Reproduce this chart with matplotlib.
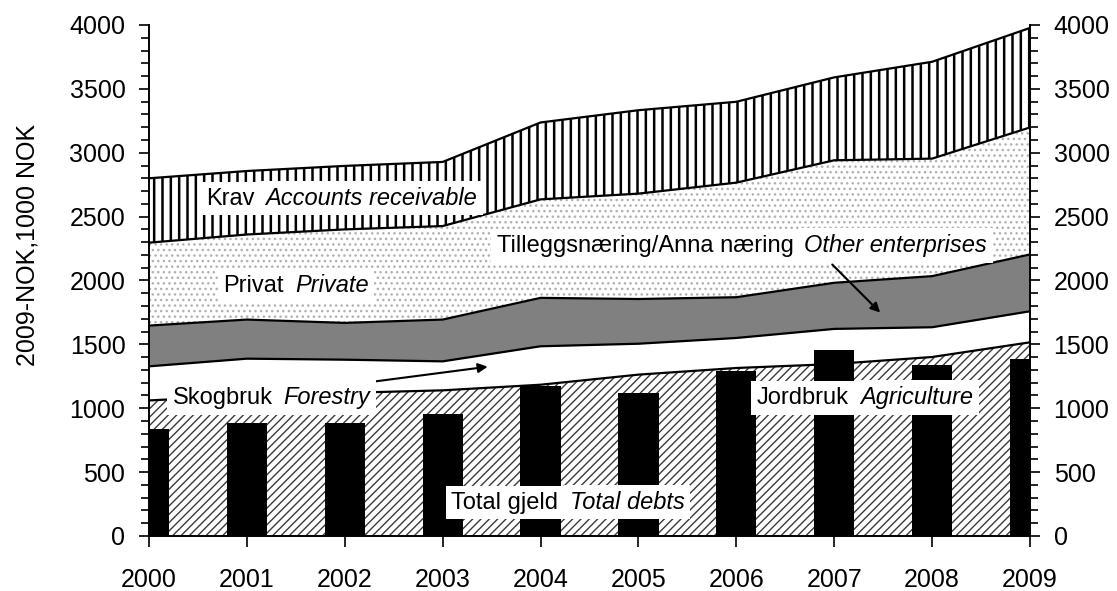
import numpy as np
import matplotlib
matplotlib.use("Agg")
import matplotlib.pyplot as plt
from matplotlib.ticker import MultipleLocator

plt.rcParams['font.family'] = ['Liberation Sans', 'DejaVu Sans']
plt.rcParams['hatch.linewidth'] = 1.0

# values (2009-NOK, 1000 NOK)
years = np.arange(2000, 2010)
agriculture = [1061, 1100, 1120, 1140, 1184, 1263, 1315, 1346, 1401, 1516]
forestry = [267, 288, 260, 227, 301, 242, 235, 275, 233, 243]
other_enterprises = [319, 306, 288, 327, 379, 350, 319, 361, 400, 445]
private = [649, 666, 732, 732, 771, 825, 897, 959, 920, 994]
receivable = [504, 497, 497, 502, 602, 653, 633, 649, 758, 779]
total_debts = [839, 886, 886, 957, 1171, 1119, 1294, 1459, 1341, 1388]

layers = [agriculture, forestry, other_enterprises, private, receivable]
layer_styles = [
    dict(facecolor='white', edgecolor='#3a3a3a', hatch='////'),
    dict(facecolor='white', edgecolor='white'),
    dict(facecolor='#808080', edgecolor='#808080'),
    dict(facecolor='white', edgecolor='#b0b0b0', hatch='...'),
    dict(facecolor='white', edgecolor='black', hatch='||'),
]
hatch_widths = [1.0, 1.0, 1.0, 1.0, 1.8]

tops = np.cumsum(np.array(layers, dtype=float), axis=0)
bottoms = np.vstack([np.zeros(len(years)), tops[:-1]])

fig = plt.figure(figsize=(11.17, 5.91), dpi=100)
ax = fig.add_axes([0.1334, 0.0931, 0.7887, 0.8646])

for bottom, top, style, hw in zip(bottoms, tops, layer_styles, hatch_widths):
    with plt.rc_context({'hatch.linewidth': hw}):
        coll = ax.fill_between(years, bottom, top, linewidth=0, zorder=1, **style)
    if hasattr(coll, 'set_hatch_linewidth'):
        coll.set_hatch_linewidth(hw)
for top in tops:
    ax.plot(years, top, color='black', lw=1.6, zorder=2)

ax.bar(years, total_debts, width=0.41, color='black', zorder=3)

# labels: normal Norwegian part followed by italic English part
labels = [
    ("Krav", "Accounts receivable", 2000.58, 2640),
    ("Privat", "Private", 2000.76, 1960),
    ("Tilleggsnæring/Anna næring", "Other enterprises", 2003.55, 2270),
    ("Skogbruk", "Forestry", 2000.24, 1080),
    ("Jordbruk", "Agriculture", 2006.21, 1080),
    ("Total gjeld", "Total debts", 2003.09, 260),
]
box = dict(facecolor='white', edgecolor='none', pad=4)
for norsk, english, x, y in labels:
    t1 = ax.text(x, y, norsk, fontsize=17, ha='left', va='center',
                 bbox=box, zorder=6)
    ax.annotate(english, xy=(1, 0), xycoords=t1, xytext=(8, 0),
                textcoords='offset points', ha='left', va='bottom',
                fontsize=17, style='italic', bbox=box, zorder=6)

arrow = dict(arrowstyle='-|>', color='black', lw=1.5, mutation_scale=14,
             shrinkA=0, shrinkB=0)
ax.annotate('', xy=(2003.46, 1325), xytext=(2002.21, 1200),
            arrowprops=arrow, zorder=5)
ax.annotate('', xy=(2007.47, 1749), xytext=(2006.98, 2125),
            arrowprops=arrow, zorder=5)

ax.set_xlim(2000, 2009)
ax.set_ylim(0, 4000)
ax.set_xticks(years)
ax.yaxis.set_major_locator(MultipleLocator(500))
ax.yaxis.set_minor_locator(MultipleLocator(100))
ax.tick_params(axis='y', which='both', direction='out', left=True, right=True,
               labelleft=True, labelright=True, width=1.2)
ax.tick_params(axis='y', which='major', length=7, labelsize=18, pad=10)
ax.tick_params(axis='y', which='minor', length=6)
ax.tick_params(axis='x', direction='out', length=8, width=1.2, labelsize=18, pad=15)
ax.spines['top'].set_visible(False)
for side in ['left', 'right', 'bottom']:
    ax.spines[side].set_linewidth(1.4)

ax.set_ylabel('2009-NOK,1000 NOK', fontsize=18, va='center')
ax.yaxis.set_label_coords(-0.138, (536 - 245) / 511)

fig.savefig('out.png', dpi=100)
